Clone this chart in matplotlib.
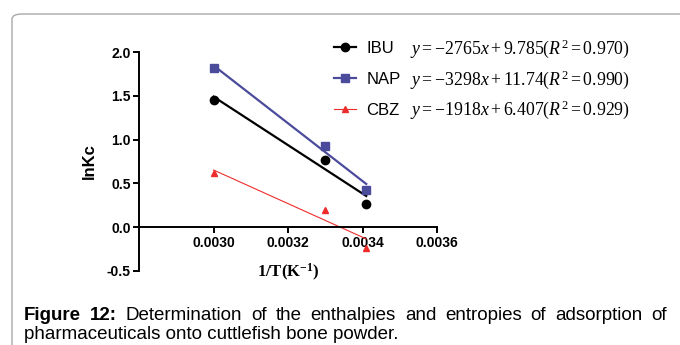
import matplotlib
matplotlib.use("Agg")
import matplotlib.pyplot as plt
from matplotlib.patches import FancyBboxPatch
import numpy as np

plt.rcParams['font.family'] = ['Liberation Sans', 'DejaVu Sans']
plt.rcParams['mathtext.fontset'] = 'custom'
plt.rcParams['mathtext.rm'] = 'Liberation Serif'
plt.rcParams['mathtext.it'] = 'Liberation Serif:italic'
plt.rcParams['mathtext.bf'] = 'Liberation Serif:bold'

# data
inv_T = [0.00300, 0.00330, 0.00341]
series = ['IBU', 'NAP', 'CBZ']
lnKc = {
    'IBU': [1.45, 0.77, 0.26],
    'NAP': [1.82, 0.93, 0.43],
    'CBZ': [0.62, 0.20, -0.24],
}
slopes = [-2765, -3298, -1918]
intercepts = [9.785, 11.74, 6.407]
r2 = [0.970, 0.990, 0.929]
colors = ['#000000', '#4B4B9C', '#EE2C2C']
markers = ['o', 's', '^']
msizes = [6, 5.5, 5]
lwidths = [1.6, 1.6, 0.8]

x_ticks = [0.0030, 0.0032, 0.0034, 0.0036]
y_ticks = [-0.5, 0.0, 0.5, 1.0, 1.5, 2.0]

caption1 = "Figure 12: Determination of the enthalpies and entropies of adsorption of"
caption2 = "pharmaceuticals onto cuttlefish bone powder."

W, H = 680, 345
fig = plt.figure(figsize=(W / 100, H / 100), dpi=100)
ax = fig.add_axes([139 / W, 1 - 271 / H, (437 - 139) / W, (271 - 52) / H])

# grey rounded frame round the figure
frame = FancyBboxPatch((12 / W, -0.2), 1.2, 1 - 14 / H + 0.2,
                       boxstyle="round,pad=0,rounding_size=0.015",
                       transform=fig.transFigure, fill=False,
                       edgecolor='#a8a8a8', linewidth=1.0)
fig.patches.append(frame)

handles = []
for i, name in enumerate(series):
    xs = np.array([inv_T[0], inv_T[-1]])
    ax.plot(xs, slopes[i] * xs + intercepts[i], color=colors[i], lw=lwidths[i])
    ax.plot(inv_T, lnKc[name], linestyle='none', marker=markers[i],
            color=colors[i], markersize=msizes[i])
    h, = ax.plot([], [], color=colors[i], lw=lwidths[i], marker=markers[i],
                 markersize=msizes[i])
    handles.append(h)

ax.set_xlim(0.0028, 0.0036)
ax.set_ylim(-0.5, 2.0)
ax.set_xticks(x_ticks)
ax.set_xticklabels(['%.4f' % v for v in x_ticks])
ax.set_yticks(y_ticks)
ax.set_yticklabels(['%.1f' % v for v in y_ticks])
ax.spines['right'].set_visible(False)
ax.spines['top'].set_visible(False)
ax.spines['bottom'].set_position(('data', 0))
for s in ['left', 'bottom']:
    ax.spines[s].set_linewidth(1.4)
ax.tick_params(direction='out', length=4, width=1.4, labelsize=10, pad=2)
for lab in ax.get_xticklabels() + ax.get_yticklabels():
    lab.set_fontweight('bold')

ax.set_ylabel('lnKc', fontsize=12, fontweight='bold', labelpad=7)
fig.text(288 / W, 1 - 272 / H, r'$\mathbf{1/T(K^{-1})}$', fontsize=12,
         ha='center', va='center')

leg = ax.legend(handles, series, loc='upper left',
                bbox_to_anchor=(334 / W, 1 - 41 / H),
                bbox_transform=fig.transFigure, frameon=False, fontsize=12,
                borderpad=0, borderaxespad=0, handlelength=1.3,
                handletextpad=0.65, labelspacing=0.95)

fig.canvas.draw()
renderer = fig.canvas.get_renderer()
for i, t in enumerate(leg.get_texts()):
    bb = t.get_window_extent(renderer)
    yc = (bb.y0 + bb.y1) / 2
    eq = r'$y=%d x+%s(R^2=%.3f)$' % (slopes[i], intercepts[i], r2[i])
    fig.text(410 / W, yc / H, eq, fontsize=12.8, ha='left', va='center')

# justified caption, first line spread between the margins
left, right = 24, 667
words = caption1.split()
texts = []
for j, w in enumerate(words):
    t = fig.text(0, 1 - 320 / H, w, fontsize=13.5,
                 fontweight='bold' if j < 2 else 'normal', va='baseline')
    texts.append(t)
widths = [t.get_window_extent(renderer).width for t in texts]
gap = (right - left - sum(widths)) / (len(words) - 1)
x = left
for t, wd in zip(texts, widths):
    t.set_x(x / W)
    x += wd + gap
fig.text(left / W, 1 - 339 / H, caption2, fontsize=13.5, va='baseline')

fig.savefig('out.png', dpi=100)
